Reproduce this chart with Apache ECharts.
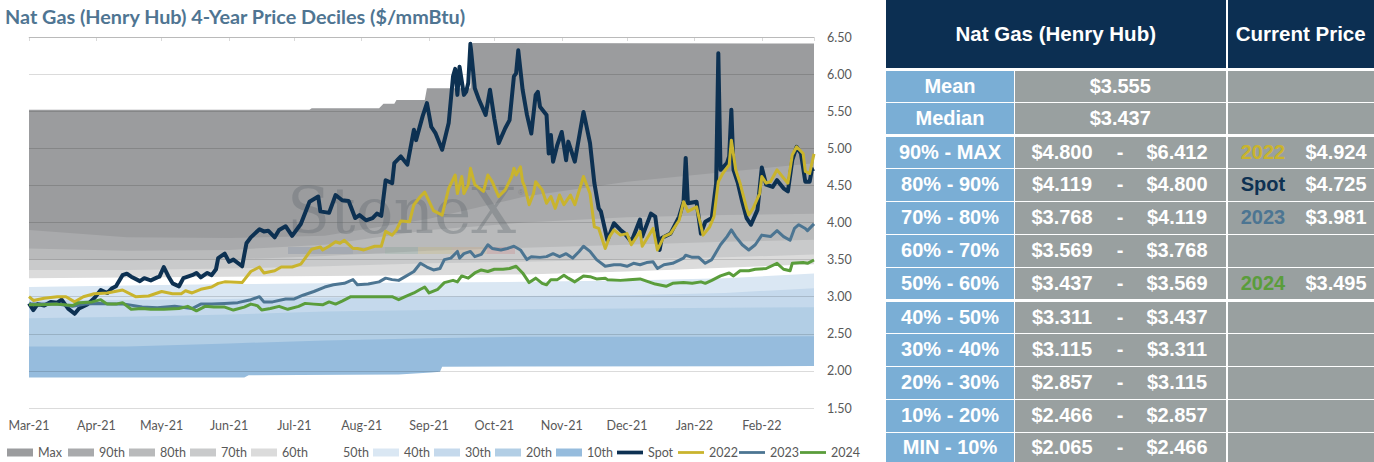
<!DOCTYPE html>
<html>
<head>
<meta charset="utf-8">
<title>Nat Gas (Henry Hub) 4-Year Price Deciles</title>
<script src="https://cdn.jsdelivr.net/npm/echarts@6/dist/echarts.min.js"></script>
<style>
  html, body { margin: 0; padding: 0; background: #fff; }
  #wrap { position: relative; width: 1374px; height: 462px; overflow: hidden; }
  #chart { position: absolute; left: 0; top: 0; width: 886px; height: 462px; }
  #table { position: absolute; left: 886px; top: 0; width: 488px; height: 462px;
           font-family: "Liberation Sans", Arimo, Arial, Helvetica, sans-serif; font-weight: bold; font-size: 20px; color: #fff; }
  .cell { position: absolute; display: flex; align-items: center; justify-content: center;
          box-sizing: border-box; white-space: nowrap; }
  .head { font-size: 20.5px; }
</style>
</head>
<body>
<div id="wrap">
  <div id="chart"></div>
  <div id="table"></div>
</div>
<script>
// --- 数据：日期用 2021-03-01 起算的天数 ---
const bandDays = [0, 45, 92, 136, 184, 228, 275, 320, 361];
const p90 = [3.90, 3.80, 3.79, 3.82, 4.05, 4.35, 4.55, 4.68, 4.800];
const p80 = [3.65, 3.62, 3.63, 3.70, 3.90, 4.00, 4.07, 4.10, 4.119];
const p70 = [3.50, 3.49, 3.50, 3.55, 3.62, 3.66, 3.70, 3.74, 3.768];
const p60 = [3.36, 3.36, 3.38, 3.41, 3.45, 3.47, 3.50, 3.53, 3.569];
const p50 = [3.25, 3.26, 3.27, 3.28, 3.29, 3.30, 3.34, 3.39, 3.437];
const p40 = [3.13, 3.15, 3.17, 3.18, 3.19, 3.20, 3.22, 3.25, 3.311];
const p30 = [2.95, 2.96, 2.97, 2.99, 3.00, 3.01, 3.02, 3.05, 3.115];
const p20 = [2.71, 2.73, 2.76, 2.80, 2.82, 2.83, 2.84, 2.85, 2.857];
const p10 = [2.33, 2.33, 2.37, 2.41, 2.44, 2.46, 2.46, 2.46, 2.466];

const maxDays = [0, 129, 130, 161, 163, 168, 169, 182, 183, 203, 204, 361];
const maxVals = [5.52, 5.52, 5.54, 5.54, 5.60, 5.60, 5.65, 5.65, 5.81, 5.81, 6.42, 6.412];
const minDays = [0, 99, 101, 170, 185, 189, 190, 361];
const minVals = [1.91, 1.91, 1.94, 1.95, 1.98, 1.99, 2.057, 2.065];

const spotDays = [0,2,4,7,10,13,15,18,21,23,27,30,33,36,38,40,43,45,47,51,53,56,59,60,62,64,66,69,71,75,
  77,79,82,84,86,87,90,92,94,98,100,102,106,108,110,113,115,118,121,125,129,133,134,138,141,144,147,150,152,155,
  158,160,162,164,167,168,171,174,177,178,181,183,185,187,190,193,195,196,197,198,200,201,202,203,205,207,210,212,214,216,
  219,221,223,224,225,227,229,231,233,234,235,238,239,240,241,243,245,247,248,251,255,258,260,262,263,266,269,272,274,277,
  281,282,286,288,290,291,295,299,301,302,303,307,309,311,314,316,317,318,321,322,323,324,326,328,330,332,335,337,339,342,
  344,347,349,351,353,355,357,359,360,361];
const spotVals = [2.91,2.82,2.90,2.88,2.93,2.92,2.96,2.84,2.77,2.84,2.90,2.98,3.09,3.05,3.11,3.14,3.29,3.31,3.27,3.21,
  3.25,3.22,3.26,3.27,3.40,3.28,3.18,3.14,3.25,3.29,3.32,3.26,3.32,3.29,3.37,3.52,3.58,3.47,3.50,3.41,
  3.72,3.80,3.91,3.88,3.89,3.80,3.90,3.95,3.82,3.98,4.28,4.35,4.15,4.13,4.37,4.30,4.29,4.06,4.10,4.03,
  4.06,4.12,4.09,4.57,4.53,4.80,4.89,4.78,5.25,5.11,5.43,5.61,5.29,5.20,4.98,5.34,5.97,6.07,5.72,6.10,
  5.72,5.76,5.88,6.41,5.81,5.65,5.45,5.79,5.40,5.07,5.27,5.38,5.97,6.01,6.32,5.79,5.45,5.20,5.72,5.76,
  5.56,5.45,4.93,5.18,4.82,5.05,5.22,4.84,5.09,4.82,5.49,5.07,4.53,4.19,4.15,3.76,3.99,3.90,3.85,3.74,
  4.04,3.81,4.12,4.08,3.63,3.79,3.85,4.08,4.28,4.87,4.26,4.28,3.85,4.01,4.06,4.53,6.28,4.71,4.80,4.89,
  5.52,4.71,4.53,4.28,4.06,3.97,4.17,4.74,4.51,4.48,4.57,4.46,4.42,4.84,5.02,4.93,4.55,4.55,4.71,4.725];

const y2022Days = [0,2,7,13,17,21,25,30,36,43,49,55,61,66,70,72,75,79,84,87,90,98,102,106,108,113,116,121,125,130,
  134,135,138,141,143,145,149,151,154,159,162,164,167,169,171,175,177,180,182,186,190,193,196,197,199,200,202,203,205,209,
  211,213,216,219,222,223,224,226,227,228,230,232,233,236,238,240,242,244,246,249,251,255,258,260,262,265,267,269,272,275,
  277,281,282,287,289,292,295,299,301,303,307,308,310,313,315,317,319,322,323,325,327,330,331,333,336,337,339,341,344,347,
  349,351,353,356,357,359,361];
const y2022Vals = [3.00,2.95,2.98,3.00,3.00,2.93,3.00,3.04,3.05,3.09,3.00,3.01,3.07,3.04,3.04,3.08,3.05,3.10,3.13,3.18,
  3.20,3.19,3.34,3.40,3.32,3.35,3.40,3.40,3.44,3.64,3.67,3.63,3.68,3.74,3.72,3.76,3.65,3.65,3.63,3.68,
  3.68,3.88,3.83,3.90,4.02,4.01,4.24,4.35,4.41,4.16,4.10,4.46,4.64,4.39,4.62,4.39,4.51,4.73,4.51,4.42,
  4.64,4.55,4.35,4.44,4.62,4.73,4.64,4.75,4.55,4.48,4.24,4.39,4.55,4.44,4.26,4.35,4.19,4.37,4.24,4.37,
  4.24,4.62,4.39,3.94,3.92,3.65,3.81,3.90,3.83,3.85,3.70,3.88,3.68,3.92,3.63,3.81,3.85,4.03,4.28,4.15,
  4.21,4.08,3.83,3.94,4.08,4.55,4.66,4.78,5.11,4.71,4.53,4.19,4.10,4.19,4.39,4.62,4.53,4.55,4.71,4.60,
  4.53,4.91,5.02,4.93,4.69,4.66,4.924];

const y2023Days = [0,6,13,20,26,32,38,44,52,59,67,75,79,84,90,96,102,106,108,112,118,122,126,131,136,140,145,149,151,156,
  161,164,167,170,173,177,180,183,186,189,191,194,197,198,200,203,205,208,211,213,217,220,223,226,229,231,235,238,241,244,
  247,250,253,255,258,261,265,269,272,275,278,281,284,287,289,292,296,301,302,305,308,311,314,318,321,323,325,328,331,334,
  337,341,344,347,350,352,354,357,358,361];
const y2023Vals = [2.90,2.90,2.90,2.87,2.90,2.91,2.90,2.90,2.86,2.85,2.87,2.84,2.90,2.90,2.91,2.92,2.96,3.00,2.93,2.93,
  2.97,2.97,3.02,3.07,3.13,3.16,3.18,3.23,3.16,3.17,3.20,3.25,3.23,3.22,3.27,3.34,3.45,3.40,3.36,3.38,
  3.50,3.52,3.61,3.52,3.58,3.61,3.54,3.57,3.70,3.65,3.63,3.65,3.68,3.63,3.50,3.54,3.53,3.54,3.58,3.54,
  3.58,3.52,3.61,3.68,3.61,3.50,3.41,3.43,3.43,3.41,3.45,3.43,3.46,3.47,3.38,3.43,3.45,3.52,3.56,3.53,
  3.53,3.45,3.50,3.70,3.81,3.90,3.81,3.70,3.63,3.70,3.83,3.81,3.89,3.81,3.76,3.92,3.97,3.92,3.89,3.981];

const y2024Days = [0,6,13,20,23,29,33,36,40,43,47,52,56,62,69,73,77,81,85,90,94,99,102,105,107,111,115,119,124,127,
  131,135,138,141,144,148,154,161,167,170,173,177,180,182,184,188,191,195,197,199,202,205,208,211,214,218,221,224,227,230,
  233,236,238,240,243,246,248,251,255,258,261,265,266,272,276,281,285,288,293,296,301,305,309,311,314,318,322,324,327,331,
  334,339,344,347,350,351,356,358,361];
const y2024Vals = [2.89,2.89,2.90,2.88,2.92,2.93,2.96,2.90,2.90,2.92,2.83,2.84,2.83,2.83,2.84,2.87,2.81,2.87,2.86,2.86,
  2.82,2.86,2.90,2.88,2.82,2.84,2.87,2.83,2.87,2.91,2.90,2.89,2.93,2.90,2.94,3.00,3.00,3.00,3.00,2.96,
  3.00,3.05,3.10,3.13,3.05,3.10,3.19,3.22,3.20,3.28,3.25,3.32,3.36,3.34,3.37,3.37,3.38,3.41,3.32,3.19,
  3.25,3.18,3.16,3.23,3.23,3.29,3.25,3.20,3.28,3.27,3.24,3.25,3.23,3.22,3.23,3.24,3.20,3.17,3.14,3.18,
  3.19,3.18,3.20,3.18,3.22,3.28,3.32,3.28,3.35,3.35,3.37,3.38,3.45,3.37,3.35,3.45,3.46,3.45,3.495];

const yTicks = [1.5, 6.5, 0.5]; // min, max, interval
const monthNames = ['Jan','Feb','Mar','Apr','May','Jun','Jul','Aug','Sep','Oct','Nov','Dec'];

// --- 表格数据 ---
const tableLabels = ['Mean','Median','90% - MAX','80% - 90%','70% - 80%','60% - 70%','50% - 60%','40% - 50%','30% - 40%','20% - 30%','10% - 20%','MIN - 10%'];
const tableLow  = [3.555, 3.437, 4.800, 4.119, 3.768, 3.569, 3.437, 3.311, 3.115, 2.857, 2.466, 2.065];
const tableHigh = [null, null, 6.412, 4.800, 4.119, 3.768, 3.569, 3.437, 3.311, 3.115, 2.857, 2.466];
const currentNames  = [null, null, '2022', 'Spot', '2023', null, '2024', null, null, null, null, null];
const currentPrices = [null, null, 4.924, 4.725, 3.981, null, 3.495, null, null, null, null, null];

// --- 颜色 ---
const lineColors = { 'Spot': '#0d3152', '2022': '#c9b42d', '2023': '#4c7592', '2024': '#5a9d3b' };
const lineWidths = { 'Spot': 4, '2022': 3, '2023': 3, '2024': 3 };
const bandColors = ['#9b9c9e', '#a9aaac', '#b9babb', '#c9cacb', '#dbdbdb', '#ffffff', '#dae7f3', '#c5d9ec', '#b2cee5', '#96bcdd'];
const bandNames = ['Max', '90th', '80th', '70th', '60th', '50th', '40th', '30th', '20th', '10th'];
const lineNames = ['Spot', '2022', '2023', '2024'];

const DAY = 86400000;
const toTime = d => new Date(2021, 2, 1 + d).getTime();
const pairs = (days, vals) => days.map((d, i) => [toTime(d), vals[i]]);

const areaSeries = (name, data, color) => ({
    name, type: 'line', data, symbol: 'none', silent: true, z: 2,
    lineStyle: { width: 0 }, itemStyle: { color },
    areaStyle: { color, opacity: 1, origin: 'start' },
    emphasis: { disabled: true }
});

const lineSeries = (name, data) => ({
    name, type: 'line', data, symbol: 'none', silent: true, z: 5,
    lineStyle: { width: lineWidths[name], color: lineColors[name], join: 'round' },
    itemStyle: { color: lineColors[name] },
    emphasis: { disabled: true }
});

const bandData = [maxVals, p90, p80, p70, p60, p50, p40, p30, p20, p10];
const series = bandNames.map((n, i) =>
    areaSeries(n, i === 0 ? pairs(maxDays, maxVals) : pairs(bandDays, bandData[i]), bandColors[i]));
series.push(areaSeries('min', pairs(minDays, minVals), '#ffffff'));
lineNames.forEach((n, i) => {
    const src = [[spotDays, spotVals], [y2022Days, y2022Vals], [y2023Days, y2023Vals], [y2024Days, y2024Vals]][i];
    series.push(lineSeries(n, pairs(src[0], src[1])));
});

const monthFmt = v => {
    const d = new Date(v);
    return monthNames[d.getMonth()] + '-' + String(d.getFullYear()).slice(2);
};

const timeAxisBase = {
    type: 'time', min: toTime(0), max: toTime(361),
    splitNumber: 12, minInterval: 28 * DAY, maxInterval: 31 * DAY,
    splitLine: { show: false }
};

const FONT = 'Lato, "Open Sans", sans-serif';

// 图例：每项单独放，保证等宽间距
const legendItems = bandNames.map(n => ({ name: n, icon: 'rect' }))
    .concat(lineNames.map(n => ({
        name: n, icon: n === 'Spot' ? 'path://M0,0 H28 V4 H0 Z' : 'path://M0,0 H28 V3 H0 Z'
    })));
const legends = legendItems.map((item, i) => ({
    left: 7 + i * 61, top: 446, padding: 0, itemGap: 0, itemWidth: 26, itemHeight: 8,
    selectedMode: false, data: [item],
    textStyle: { color: '#595959', fontSize: 12.5, fontFamily: FONT }
}));

// 水印 StoneX
const logoBar = [
    [288, 65, 'rgba(60,90,130,0.16)'], [353, 32, 'rgba(90,100,110,0.10)'], [385, 33, 'rgba(60,120,90,0.14)'],
    [418, 34, 'rgba(200,170,60,0.18)'], [452, 35, 'rgba(220,150,70,0.16)'], [487, 28, 'rgba(200,70,70,0.16)']
];

const option = {
    animation: false,
    title: {
        text: 'Nat Gas (Henry Hub) 4-Year Price Deciles ($/mmBtu)',
        left: 5, top: 6, padding: 0,
        textStyle: { color: '#4f7592', fontSize: 19.8, fontWeight: 'bold', fontFamily: FONT }
    },
    grid: { left: 29, right: 72, top: 37, bottom: 54 },
    legend: legends,
    xAxis: [
        Object.assign({}, timeAxisBase, {
            axisLine: { show: false }, axisTick: { show: false },
            axisLabel: { formatter: monthFmt, color: '#595959', fontSize: 12.5, fontFamily: FONT, margin: 11 }
        }),
        Object.assign({}, timeAxisBase, {
            position: 'top',
            axisLine: { show: true, lineStyle: { color: '#d9d9d9', width: 1 } },
            axisTick: { show: true, inside: true, length: 4, lineStyle: { color: '#d9d9d9' } },
            axisLabel: { show: false }
        })
    ],
    yAxis: {
        type: 'value', position: 'right', min: yTicks[0], max: yTicks[1], interval: yTicks[2], z: 3,
        axisLine: { show: false }, axisTick: { show: false },
        splitLine: { show: true, lineStyle: { color: 'rgba(0,0,0,0.14)', width: 1 } },
        axisLabel: { formatter: v => v.toFixed(2), color: '#595959', fontSize: 12.5, fontFamily: FONT, margin: 13 }
    },
    graphic: [
        { type: 'text', left: 287, top: 180, z: 4, silent: true,
          style: { text: 'StoneX', font: '63px "DejaVu Serif", serif', fill: 'rgba(100,108,114,0.38)' } },
        { type: 'text', left: 518, top: 188, z: 4, silent: true,
          style: { text: '®', font: '8px sans-serif', fill: 'rgba(100,108,114,0.45)' } }
    ].concat(logoBar.map(b => ({
        type: 'rect', left: b[0], top: 247, z: 4, silent: true,
        shape: { width: b[1], height: 7 }, style: { fill: b[2] }
    }))),
    series
};

const chart = echarts.init(document.getElementById('chart'), null, { renderer: 'svg' });
chart.setOption(option);

// --- 右侧表格 ---
const table = document.getElementById('table');
const NAVY = '#0c2f52', BLUE = '#7aaed5', GREY = '#99a0a0';
const cell = (left, top, w, h, bg, text, color, cls) => {
    const el = document.createElement('div');
    el.className = 'cell' + (cls ? ' ' + cls : '');
    el.style.cssText = `left:${left}px;top:${top}px;width:${w}px;height:${h}px;` +
        (bg ? `background:${bg};` : '') + (color ? `color:${color};` : '');
    if (text != null) el.textContent = text;
    table.appendChild(el);
};
const money = v => '$' + v.toFixed(3);

cell(0, 0, 339.5, 68, NAVY, 'Nat Gas (Henry Hub)', null, 'head');
cell(341.5, 0, 146.5, 68, NAVY, 'Current Price', null, 'head');

const rowTops = [71, 103, 137, 169, 202, 235, 268, 302, 334, 367, 400, 433];
const rowBottoms = [102, 134, 167.5, 200.5, 233.5, 266.5, 299, 333, 365.5, 398.5, 431.5, 462];

tableLabels.forEach((label, i) => {
    const top = rowTops[i], h = rowBottoms[i] - rowTops[i];
    cell(0, top, 128, h, BLUE, label);
    cell(129, top, 210.5, h, GREY, tableHigh[i] == null ? money(tableLow[i]) : null);
    cell(341.5, top, 146.5, h, GREY, null);
    if (tableHigh[i] != null) {
        cell(129, top, 94, h, null, money(tableLow[i]));
        cell(214, top, 40, h, null, '-');
        cell(244, top, 94, h, null, money(tableHigh[i]));
    }
    if (currentNames[i]) {
        cell(341.5, top, 71, h, null, currentNames[i], lineColors[currentNames[i]]);
        cell(413, top, 74, h, null, money(currentPrices[i]));
    }
});
</script>
</body>
</html>
